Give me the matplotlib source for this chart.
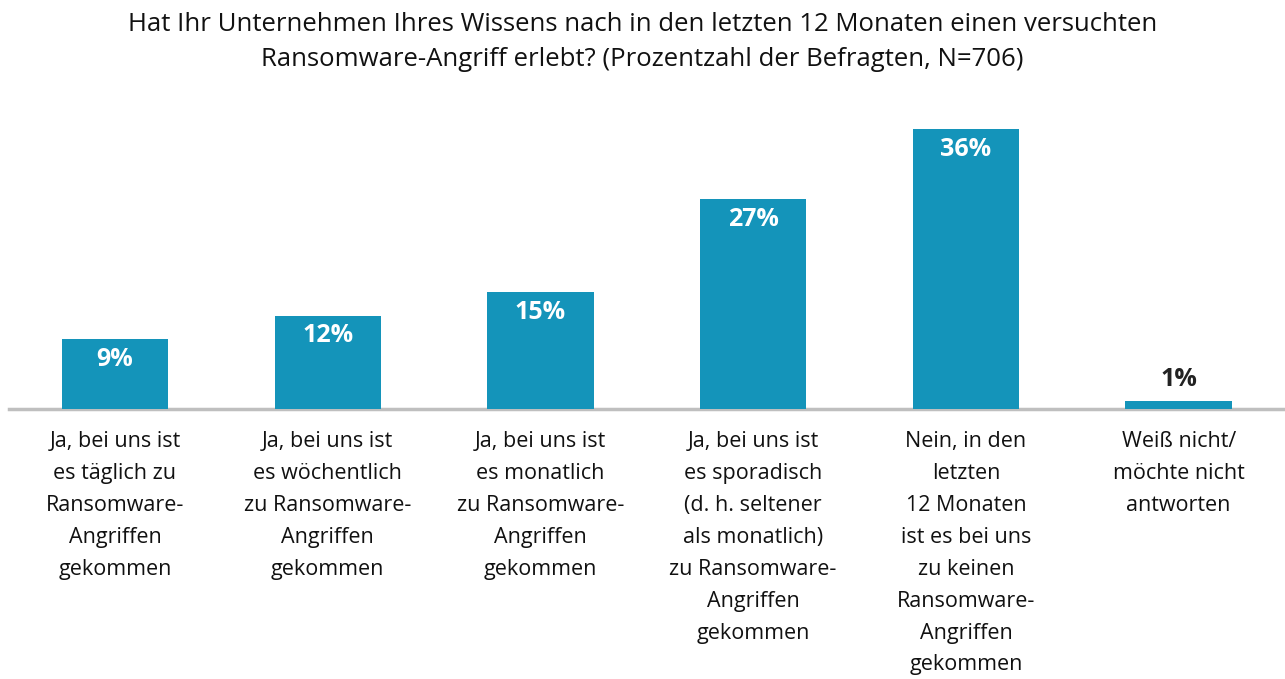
import matplotlib.pyplot as plt

plt.rcParams['font.family'] = ['Open Sans', 'DejaVu Sans']

categories = [
    "Ja, bei uns ist\nes täglich zu\nRansomware-\nAngriffen\ngekommen",
    "Ja, bei uns ist\nes wöchentlich\nzu Ransomware-\nAngriffen\ngekommen",
    "Ja, bei uns ist\nes monatlich\nzu Ransomware-\nAngriffen\ngekommen",
    "Ja, bei uns ist\nes sporadisch\n(d. h. seltener\nals monatlich)\nzu Ransomware-\nAngriffen\ngekommen",
    "Nein, in den\nletzten\n12 Monaten\nist es bei uns\nzu keinen\nRansomware-\nAngriffen\ngekommen",
    "Weiß nicht/\nmöchte nicht\nantworten",
]
values = [9, 12, 15, 27, 36, 1]
title = ("Hat Ihr Unternehmen Ihres Wissens nach in den letzten 12 Monaten einen versuchten\n"
         "Ransomware-Angriff erlebt? (Prozentzahl der Befragten, N=706)")

bar_color = '#1494BA'

fig = plt.figure(figsize=(12.85, 6.79), dpi=100)
ax = fig.add_axes([0.0067, 0.3976, 0.9933, 0.458])

x = range(len(values))
ax.bar(x, values, width=0.5, color=bar_color, zorder=2)
ax.set_xlim(-0.5, 5.5)
ax.set_ylim(0, 40)

# Werte-Beschriftung
for xi, v in zip(x, values):
    if v >= 5:
        ax.annotate(f"{v}%", (xi, v), xytext=(0, -14.5), textcoords='offset points',
                    ha='center', va='center', color='white', fontsize=18, fontweight='bold')
    else:
        ax.annotate(f"{v}%", (xi, v), xytext=(0, 16), textcoords='offset points',
                    ha='center', va='center', color='#222222', fontsize=18, fontweight='bold')

for s in ['top', 'right', 'left']:
    ax.spines[s].set_visible(False)
ax.spines['bottom'].set_color('#BFBFBF')
ax.spines['bottom'].set_linewidth(2.5)
ax.spines['bottom'].set_zorder(1)
ax.set_yticks([])
ax.set_xticks(list(x))
ax.set_xticklabels(categories, fontsize=15.5, color='#111111', linespacing=1.68, va='top')
ax.tick_params(axis='x', length=0, pad=16)

fig.text(0.5, 0.982, title, ha='center', va='top', fontsize=18.5, color='#111111',
         linespacing=1.5)

fig.savefig('out.png', dpi=100)
